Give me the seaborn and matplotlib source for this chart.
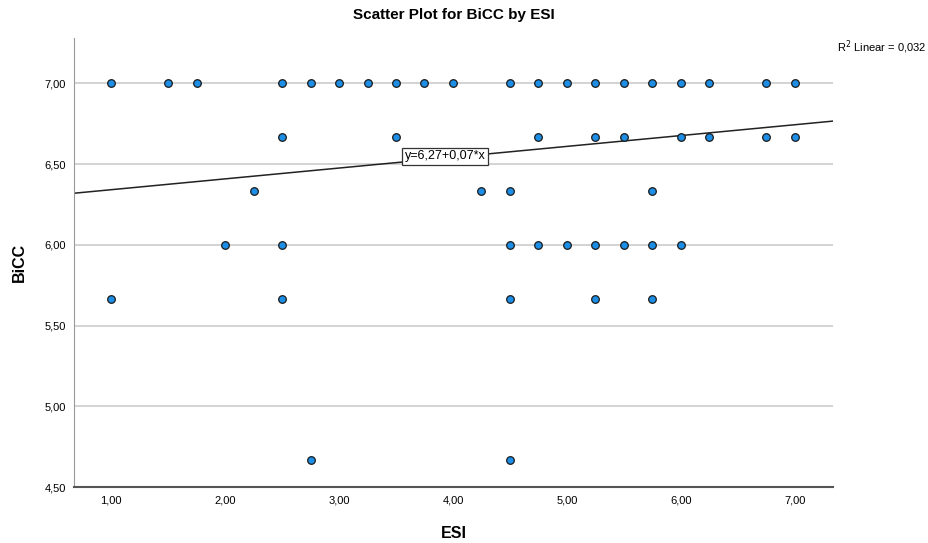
import numpy as np
import pandas as pd
import seaborn as sns
import matplotlib.pyplot as plt

# ESI / BiCC points, grouped by BiCC level
esi_700 = [1.0, 1.5, 1.75, 2.5, 2.75, 3.0, 3.25, 3.5, 3.75, 4.0, 4.5, 4.75,
           5.0, 5.25, 5.5, 5.75, 6.0, 6.25, 6.75, 7.0]
esi_667 = [2.5, 3.5, 4.75, 5.25, 5.5, 6.0, 6.25, 6.75, 7.0]
esi_633 = [2.25, 4.25, 4.5, 5.75]
esi_600 = [2.0, 2.5, 4.5, 4.75, 5.0, 5.25, 5.5, 5.75, 6.0]
esi_567 = [1.0, 2.5, 4.5, 5.25, 5.75]
esi_467 = [2.75, 4.5]

bicc_levels = [7.0, 6.6667, 6.3333, 6.0, 5.6667, 4.6667]

# fit line shown in the chart
intercept = 6.274
slope = 0.067
r2 = 0.032

groups = [esi_700, esi_667, esi_633, esi_600, esi_567, esi_467]
df = pd.DataFrame({
    'ESI': [x for g in groups for x in g],
    'BiCC': [lvl for g, lvl in zip(groups, bicc_levels) for _ in g],
})

sns.set_style('white')
plt.rcParams['font.family'] = ['Liberation Sans', 'DejaVu Sans']
plt.rcParams['text.color'] = 'black'
plt.rcParams['axes.labelcolor'] = 'black'
plt.rcParams['xtick.color'] = 'black'
plt.rcParams['ytick.color'] = 'black'

fig, ax = plt.subplots(figsize=(9.29, 5.43), dpi=100)
fig.subplots_adjust(left=0.080, right=0.897, top=0.930, bottom=0.103)

ax.set_xlim(0.675, 7.34)
ax.set_ylim(4.5, 7.28)

yt = [4.5, 5.0, 5.5, 6.0, 6.5, 7.0]
ax.set_yticks(yt)
ax.set_yticklabels([f'{v:.2f}'.replace('.', ',') for v in yt])
xt = [1, 2, 3, 4, 5, 6, 7]
ax.set_xticks(xt)
ax.set_xticklabels([f'{v:.2f}'.replace('.', ',') for v in xt])

for v in yt[1:]:
    ax.axhline(v, color='#cccccc', lw=1.2, zorder=0)

xs = np.array(ax.get_xlim())
sns.lineplot(x=xs, y=intercept + slope * xs, color='#222222', lw=1.1, ax=ax, zorder=2)

sns.scatterplot(data=df, x='ESI', y='BiCC', s=30, color='#1c8ee6',
                edgecolor='#1a1a1a', linewidth=0.9, ax=ax, zorder=3)

ax.text(3.93, 6.548, 'y=6,27+0,07*x', fontsize=9, ha='center', va='center',
        bbox=dict(boxstyle='square,pad=0.2', fc='white', ec='#333333', lw=0.9), zorder=4)

fig.text(0.997, 0.913, 'R$^2$ Linear = 0,032', fontsize=8, ha='right', va='center')

ax.set_title('Scatter Plot for BiCC by ESI', fontsize=11, fontweight='bold', pad=14)
ax.set_xlabel('ESI', fontsize=11.5, fontweight='bold', labelpad=15)
ax.set_ylabel('BiCC', fontsize=11.5, fontweight='bold', labelpad=13)

for s in ['top', 'right']:
    ax.spines[s].set_visible(False)
ax.spines['left'].set_color('#999999')
ax.spines['bottom'].set_color('#555555')
ax.spines['bottom'].set_linewidth(1.5)
ax.tick_params(axis='both', labelsize=8, length=0, pad=6)

fig.savefig('out.png', dpi=100)
